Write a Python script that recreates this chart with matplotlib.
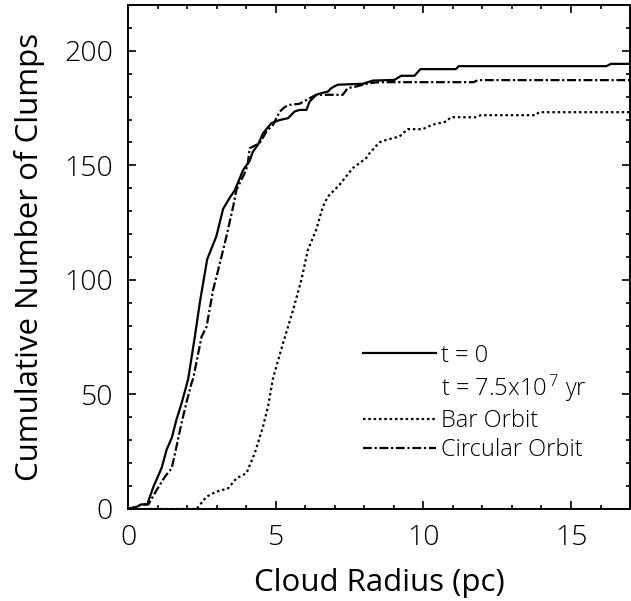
import numpy as np
import matplotlib
matplotlib.use("Agg")
from matplotlib import pyplot as plt

plt.rcParams['font.family'] = ['Open Sans', 'DejaVu Sans']
plt.rcParams['font.weight'] = 'light'
plt.rcParams['mathtext.fontset'] = 'custom'
plt.rcParams['mathtext.rm'] = 'Open Sans:light'
plt.rcParams['mathtext.default'] = 'regular'

# cumulative clump counts vs cloud radius (pc)
r_t0 = [0, 0.3, 0.45, 0.65, 0.86, 1.14, 1.31, 1.48, 1.64, 1.81, 1.96, 2.04,
        2.26, 2.43, 2.68, 2.99, 3.22, 3.45, 3.61, 3.9, 4.12, 4.23, 4.4, 4.57,
        4.7, 4.85, 5.14, 5.42, 5.64, 5.81, 6.04, 6.15, 6.38, 6.54, 6.77, 6.88,
        7.1, 7.95, 8.29, 9.02, 9.25, 9.7, 9.9, 11.1, 11.2, 16.2, 16.35, 17]
n_t0 = [0, 1, 2, 2, 9.7, 18, 26, 31, 39, 46, 53, 57,
        75, 90, 109, 119, 131, 136, 139, 148, 152, 156, 159, 164,
        166, 168.4, 169.8, 170.6, 173.5, 174.2, 174.2, 177.9, 180.8, 181.5, 182.2, 183.7,
        185.2, 185.6, 187, 187.3, 189.1, 189.1, 192, 192, 193.3, 193.3, 194.3, 194.3]

r_bar = [0, 2.32, 2.66, 3.0, 3.39, 3.67, 4.01, 4.29, 4.57, 4.74, 4.91, 5.25,
         5.59, 5.87, 6.09, 6.37, 6.6, 6.77, 7.16, 7.61, 8.06, 8.18, 8.51, 8.74,
         9.19, 9.47, 9.98, 10.3, 10.77, 10.93, 11.78, 11.95, 13.8, 13.92, 17]
n_bar = [0, 0, 5.4, 7.6, 9, 13.4, 15.6, 24.3, 35.9, 44.7, 57.1, 72.4,
         86.9, 100, 113.1, 121.8, 132, 136.4, 141.5, 148.8, 153.1, 155.3, 160, 161.1,
         162.6, 165.8, 165.8, 167.7, 169.1, 171, 171, 171.9, 171.9, 173.2, 173.2]

r_circ = [0, 0.3, 0.45, 0.69, 0.97, 1.25, 1.48, 1.64, 1.81, 2.0, 2.15, 2.21,
          2.49, 2.66, 2.88, 3.11, 3.33, 3.56, 3.67, 3.95, 4.05, 4.12, 4.46, 4.69,
          4.91, 5.14, 5.3, 5.47, 5.81, 6.15, 6.37, 7.27, 7.44, 7.72, 8.18, 8.51,
          11.7, 11.85, 17]
n_circ = [0, 1, 2, 2, 8.3, 14.1, 17.8, 27.2, 37.4, 47.6, 54.9, 57.1,
          75.2, 79.6, 95.6, 107.3, 118.9, 132, 139.3, 146.6, 150, 157.5, 159.7, 164.8,
          167.7, 173.5, 175.4, 176.4, 176.9, 179.3, 180.8, 180.8, 183.7, 184.4, 185.9, 186.3,
          186.3, 187.2, 187.2]

fig = plt.figure(figsize=(6.31, 6.01), dpi=100)
ax = fig.add_axes([0.2029, 0.1531, 0.7956, 0.8386])

l1, = ax.plot(r_t0, n_t0, color='k', lw=1.6, label='t = 0')
blank, = ax.plot([], [], color='none', label='t = 7.5x10$^{\\,7}$ yr')
l2, = ax.plot(r_bar, n_bar, color='k', lw=1.6, linestyle=(0, (1.1, 1.3)),
              label='Bar Orbit')
l3, = ax.plot(r_circ, n_circ, color='k', lw=1.6,
              linestyle=(0, (4, 1.2, 1, 1.2)), label='Circular Orbit')

ax.set_xlim(0, 17)
ax.set_ylim(0, 220)
ax.set_xticks([0, 5, 10, 15])
ax.set_xticks(np.arange(0, 17.1, 1), minor=True)
ax.set_yticks([0, 50, 100, 150, 200])
ax.set_yticks(np.arange(0, 221, 10), minor=True)
ax.tick_params(which='both', direction='in', top=True, right=True,
               width=1.2, labelsize=20.5, pad=11)
ax.tick_params(which='major', length=6)
ax.tick_params(which='minor', length=3)
for s in ax.spines.values():
    s.set_linewidth(1.4)

ax.set_xlabel('Cloud Radius (pc)', fontsize=22.5)
ax.set_ylabel('Cumulative Number of Clumps', fontsize=22.5)
ax.xaxis.set_label_coords(0.5, -0.118)
ax.yaxis.set_label_coords(-0.165, 0.5)

ax.legend(handles=[l1, blank, l2, l3], loc='upper left',
          bbox_to_anchor=(0.468, 0.328), frameon=False, fontsize=17,
          handlelength=3.1, handletextpad=0.2, borderpad=0,
          borderaxespad=0, labelspacing=0.22)

fig.savefig('out.png', dpi=100)
